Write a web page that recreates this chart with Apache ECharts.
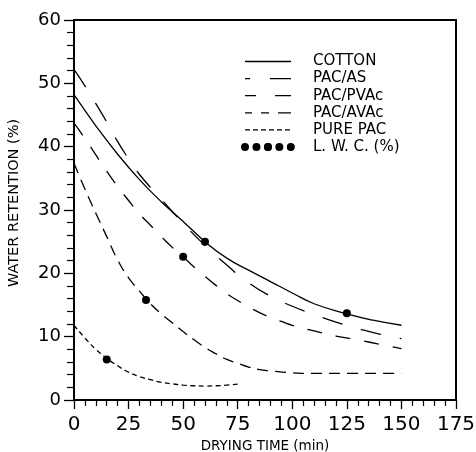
<!DOCTYPE html>
<html><head><meta charset="utf-8">
<script src="https://cdn.jsdelivr.net/npm/echarts@6/dist/echarts.min.js"></script>
<style>html,body{margin:0;padding:0;background:#fff}#c{width:476px;height:452px}</style>
</head><body><div id="c"></div>
<script>
// ---- data ----
const xTicks = [0, 25, 50, 75, 100, 125, 150, 175];
const yTicks = [0, 10, 20, 30, 40, 50, 60];

const cottonT = [0, 10, 20, 30, 40, 50, 60, 70, 80, 90, 100, 110, 125, 137, 150];
const cottonV = [48.2, 43.3, 38.8, 34.8, 31.3, 28.2, 25.0, 22.4, 20.5, 18.7, 16.9, 15.2, 13.6, 12.6, 11.8];

const pacAsT = [0, 5, 10, 15, 20, 25, 30, 40, 50, 60, 70, 80, 90, 100, 110, 120, 130, 140, 150];
const pacAsV = [52.2, 49.6, 46.8, 43.9, 40.8, 38.1, 35.6, 31.7, 27.9, 24.4, 21.3, 18.5, 16.4, 14.8, 13.5, 12.3, 11.3, 10.4, 9.7];

const pacPvacT = [0, 5, 10, 15, 20, 25, 30, 35, 40, 45, 50, 55, 60, 65, 70, 75, 80, 85, 90, 95, 100, 110, 120, 130, 140, 150];
const pacPvacV = [43.7, 41.3, 38.7, 36.1, 33.7, 31.5, 29.4, 27.6, 25.8, 24.1, 22.6, 21.0, 19.5, 18.1, 16.8, 15.7, 14.7, 13.8, 13.0, 12.4, 11.8, 10.9, 10.1, 9.5, 8.8, 8.1];

const pacAvacT = [0, 5, 10, 15, 20, 25, 30, 35, 40, 45, 50, 55, 60, 65, 70, 75, 80, 85, 90, 100, 110, 125, 150];
const pacAvacV = [37.4, 33.3, 29.5, 25.8, 22.1, 19.3, 17.2, 15.2, 13.6, 12.2, 10.8, 9.5, 8.3, 7.3, 6.4, 5.8, 5.2, 4.8, 4.6, 4.3, 4.2, 4.2, 4.2];

const purePacT = [0, 5, 10, 15, 20, 25, 30, 35, 40, 45, 50, 55, 60, 65, 70, 75];
const purePacV = [11.8, 9.8, 8.0, 6.6, 5.4, 4.4, 3.7, 3.2, 2.8, 2.55, 2.35, 2.25, 2.2, 2.25, 2.35, 2.5];

const lwcT = [15, 33, 50, 60, 125];
const lwcV = [6.4, 15.8, 22.6, 25.0, 13.7];

const names = ['COTTON', 'PAC/AS', 'PAC/PVAc', 'PAC/AVAc', 'PURE PAC', 'L. W. C. (%)'];

// ---- build ----
const zip = (t, v) => t.map((x, i) => [x, v[i]]);
const FONT = 'DejaVu Sans';
const lineSeries = (name, t, v, dash) => ({
  name, type: 'line', data: zip(t, v), smooth: 0.5,
  symbol: 'none', silent: true,
  lineStyle: { color: '#000', width: 1.3, type: dash }
});

const chart = echarts.init(document.getElementById('c'), null, { renderer: 'canvas' });
const legendText = { fontFamily: FONT, fontSize: 15, color: '#000', padding: [0, 0, 0, 17] };
chart.setOption({
  animation: false,
  backgroundColor: '#fff',
  grid: { left: 74, right: 20, top: 20, bottom: 52, containLabel: false, outerBoundsMode: 'none',
          show: true, borderColor: '#000', borderWidth: 2 },
  legend: {
    orient: 'vertical', left: 241, top: 54, padding: 0,
    itemWidth: 46, itemHeight: 10, itemGap: 2.1,
    selectedMode: false,
    itemStyle: { opacity: 0 },
    textStyle: legendText,
    data: [
      { name: names[0], lineStyle: { type: 'solid', width: 1.4 } },
      { name: names[1], lineStyle: { type: [5, 20, 22, 10], width: 1.3 } },
      { name: names[2], lineStyle: { type: [11, 19, 17, 10], width: 1.3 } },
      { name: names[3], lineStyle: { type: [7, 9, 8, 9, 13, 10], width: 1.3 } },
      { name: names[4], lineStyle: { type: [5, 3], width: 1.3 } },
      { name: names[5], itemStyle: { opacity: 1, color: '#000' },
        lineStyle: { type: [0, 11.45], width: 8, cap: 'round', color: '#000', opacity: 1 } }
    ]
  },
  xAxis: {
    type: 'value', min: xTicks[0], max: xTicks[xTicks.length - 1], interval: 25,
    axisLine: { show: true, onZero: false, lineStyle: { color: '#000', width: 2 } },
    axisTick: { show: true, length: 9, lineStyle: { color: '#000', width: 1.3 } },
    minorTick: { show: true, splitNumber: 5, length: 6, lineStyle: { color: '#000', width: 1.2 } },
    splitLine: { show: false },
    axisLabel: { fontFamily: FONT, fontSize: 20, color: '#000', margin: 15 },
    name: 'DRYING TIME (min)', nameLocation: 'middle', nameGap: 35,
    nameTextStyle: { fontFamily: FONT, fontSize: 13.5, color: '#000' }
  },
  yAxis: {
    type: 'value', min: yTicks[0], max: yTicks[yTicks.length - 1], interval: 10,
    axisLine: { show: true, onZero: false, lineStyle: { color: '#000', width: 2 } },
    axisTick: { show: true, length: 10, lineStyle: { color: '#000', width: 1.3 } },
    minorTick: { show: true, splitNumber: 5, length: 7, lineStyle: { color: '#000', width: 1.2 } },
    splitLine: { show: false },
    axisLabel: { fontFamily: FONT, fontSize: 18, color: '#000', margin: 13 },
    name: 'WATER RETENTION (%)', nameLocation: 'middle', nameGap: 52, nameRotate: 90,
    nameTextStyle: { fontFamily: FONT, fontSize: 14.5, color: '#000', padding: [0, 0, 0, 14] }
  },
  series: [
    lineSeries(names[0], cottonT, cottonV, 'solid'),
    lineSeries(names[1], pacAsT, pacAsV, [21, 19]),
    lineSeries(names[2], pacPvacT, pacPvacV, [15, 14]),
    lineSeries(names[3], pacAvacT, pacAvacV, [11, 7]),
    lineSeries(names[4], purePacT, purePacV, [5, 3.5]),
    {
      name: names[5], type: 'line', data: zip(lwcT, lwcV), symbol: 'circle', symbolSize: 8,
      showSymbol: true, silent: true,
      lineStyle: { opacity: 0, width: 0 }, itemStyle: { color: '#000' }
    }
  ]
});
</script></body></html>
